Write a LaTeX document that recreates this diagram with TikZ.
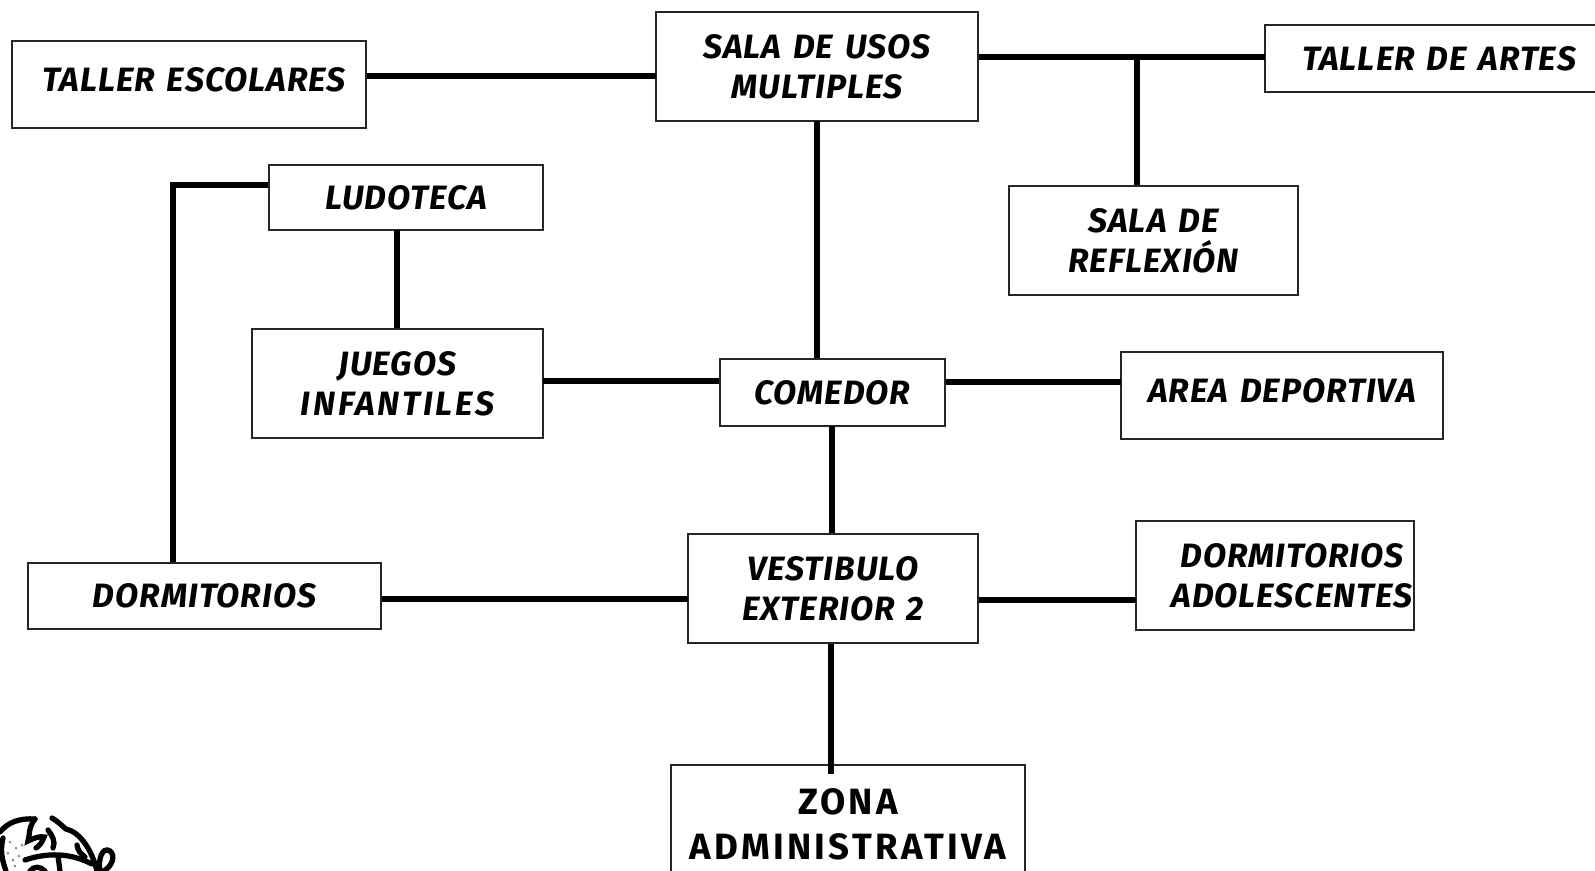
\documentclass[tikz,border=0pt]{standalone}
\usepackage{fontspec}
\setmainfont[LetterSpace=3,WordSpace=1.35]{Fira Sans}
\tikzset{
  espacio/.style={draw=black!85, line width=.45pt, fill=white, align=center, inner sep=0pt, font=\fontsize{9.6}{11.4}\selectfont\itshape\bfseries},
  recto/.style={font=\fontsize{10.4}{12.7}\selectfont\bfseries\addfontfeatures{LetterSpace=9}},
  liga/.style={line width=1.7pt},
  globo/.style={line width=1.5pt, line cap=round}
}
\begin{document}
\begin{tikzpicture}[x=.01cm,y=-.01cm]
\clip (0,0) rectangle (1595,871);
\fill[white] (0,0) rectangle (1595,871);
% junctions
\coordinate (jesc) at (656,76);
\coordinate (jartes) at (1265,57);
\coordinate (jrefl) at (1137,57);
\coordinate (jsala) at (817,121);
\coordinate (jludo) at (397,230);
\coordinate (jdorm) at (173,185);
\coordinate (jjueg) at (543,381);
\coordinate (jarea) at (1121,382);
\coordinate (jcome) at (832,426);
\coordinate (jvest) at (688,599);
\coordinate (jadol) at (1136,600);
\coordinate (jzona) at (831,774);
% rooms
\node[espacio, minimum width=3.54cm, minimum height=.87cm] (tesc) at (189,84.5){\raisebox{2.9pt}{\hspace*{.1cm}TALLER ESCOLARES}};
\node[espacio, minimum width=3.22cm, minimum height=1.09cm] (sala) at (817,66.5){SALA DE USOS\\MULTIPLES};
\node[espacio, minimum width=3.4cm, minimum height=.67cm] (tart) at (1435,58.5){\hspace*{.08cm}TALLER DE ARTES};
\node[espacio, minimum width=2.74cm, minimum height=.65cm] (ludo) at (406,197.5){LUDOTECA};
\node[espacio, minimum width=2.89cm, minimum height=1.09cm] (refl) at (1153.5,240.5){SALA DE\\REFLEXIÓN};
\node[espacio, minimum width=2.91cm, minimum height=1.09cm] (jueg) at (397.5,383.5){JUEGOS\\\addfontfeatures{LetterSpace=8}INFANTILES};
\node[espacio, minimum width=2.25cm, minimum height=.67cm] (come) at (832.5,392.5){COMEDOR};
\node[espacio, minimum width=3.22cm, minimum height=.87cm] (area) at (1282,395.5){\raisebox{2.9pt}{AREA DEPORTIVA}};
\node[espacio, minimum width=3.53cm, minimum height=.66cm] (dorm) at (204.5,596){DORMITORIOS};
\node[espacio, minimum width=2.9cm, minimum height=1.09cm] (vest) at (833,588.5){VESTIBULO\\EXTERIOR 2};
\node[espacio, minimum width=2.78cm, minimum height=1.09cm] (adol) at (1275,575.5){\hspace*{.34cm}DORMITORIOS\\\hspace*{.34cm}ADOLESCENTES};
\node[espacio, recto, minimum width=3.54cm, minimum height=1.18cm] (zona) at (848,824){ZONA\\ADMINISTRATIVA};
% links
\draw[liga] (tesc.east |- jesc) -- (jesc);
\draw[liga] (sala.east |- jartes) -- (jartes);
\draw[liga] (jrefl) -- (jrefl |- refl.north);
\draw[liga] (jsala) -- (jsala |- come.north);
\draw[liga] (jludo) -- (jludo |- jueg.north);
\draw[liga] (ludo.west |- jdorm) -- (jdorm) -- (jdorm |- dorm.north);
\draw[liga] (jjueg) -- (come.west |- jjueg);
\draw[liga] (come.east |- jarea) -- (jarea);
\draw[liga] (jcome) -- (jcome |- vest.north);
\draw[liga] (dorm.east |- jvest) -- (jvest);
\draw[liga] (vest.east |- jadol) -- (jadol);
\draw[liga] (jzona |- vest.south) -- (jzona);
% globe
\draw[globo] (0,832) .. controls (8,822) and (20,818) .. (35,819);
\draw[globo] (35,819) .. controls (28,828) and (30,835) .. (28,841) .. controls (34,838) and (40,836) .. (44,837) .. controls (42,843) and (39,846) .. (36,848);
\draw[globo] (52,818) .. controls (60,823) and (62,826) .. (66,829) .. controls (80,832) and (92,850) .. (97,871);
\draw[globo] (48,830) .. controls (52,835) and (56,842) .. (53,848);
\draw[globo] (25,860) .. controls (40,855) and (65,850) .. (92,864);
\draw[globo] (77,845) .. controls (78,851) and (80,853) .. (85,857);
\draw[globo] (100,871) .. controls (98,860) and (102,846) .. (110,851) .. controls (116,856) and (112,866) .. (104,871);
\draw[globo] (3,838) .. controls (0,850) and (2,860) .. (6,871);
\draw[globo] (58,856) -- (60,871);
\draw[globo] (30,871) .. controls (34,866) and (40,866) .. (45,871);
\fill[black!45] (10,842) circle (1.5) (16,848) circle (1.5) (8,853) circle (1.5) (19,856) circle (1.5) (13,860) circle (1.5) (22,845) circle (1.5) (15,866) circle (1.5);
\end{tikzpicture}
\end{document}
